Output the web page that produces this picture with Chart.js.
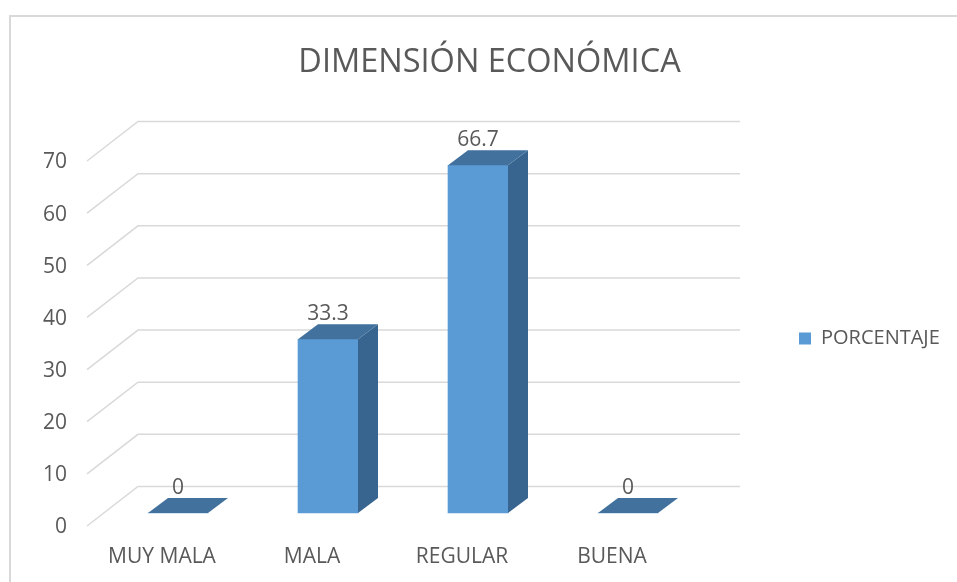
<!DOCTYPE html>
<html><head><meta charset="utf-8">
<script src="https://cdn.jsdelivr.net/npm/chart.js@4.4.1/dist/chart.umd.min.js"></script>
<style>html,body{margin:0;padding:0;background:#fff;overflow:hidden}#wrap{position:relative;width:957px;height:582px}</style>
</head><body><div id="wrap"><canvas id="c" width="957" height="582"></canvas></div>
<script>
// ---- data ----
const categories = ['MUY MALA', 'MALA', 'REGULAR', 'BUENA'];
const seriesName = 'PORCENTAJE';
const porcentaje = [0, 33.3, 66.7, 0];
const yTicks = [0, 10, 20, 30, 40, 50, 60, 70];
const chartTitle = 'DIMENSIÓN ECONÓMICA';

// ---- style ----
const FONT = '"Open Sans", sans-serif';
const TEXT = '#595959';
const FRONT = '#5B9BD5';
const TOPC = '#41719C';
const SIDEC = '#386490';
const GRID = '#D9D9D9';
const WALL = {dx: 51, dy: -39.5};
const WALL_RIGHT = 740;
const SHIFT = {dx: 16, dy: -13};
const DEPTH = {dx: 20, dy: -15};
const LEG_FS = 20;

const mc = document.createElement('canvas').getContext('2d');
mc.font = 'normal normal ' + LEG_FS + 'px ' + FONT;
const legTextW = mc.measureText(seriesName).width;
const legPad = 112;
const legWidth = legPad + 12 + LEG_FS / 2 + legTextW + 10;
const padR = Math.max(0, 270 - legWidth);
const padL = 22 + padR;

const threeD = {
  id: 'threeD',
  beforeDraw(chart) {
    const ctx = chart.ctx;
    ctx.save();
    ctx.strokeStyle = GRID; ctx.lineWidth = 2;
    ctx.beginPath(); ctx.moveTo(10, 582); ctx.lineTo(10, 16); ctx.lineTo(957, 16); ctx.stroke();
    ctx.restore();
  },
  beforeDatasetsDraw(chart) {
    const {ctx, chartArea, scales: {y}} = chart;
    ctx.save();
    ctx.strokeStyle = GRID; ctx.lineWidth = 1.5;
    y.ticks.forEach(t => {
      const yf = y.getPixelForValue(t.value);
      ctx.beginPath();
      ctx.moveTo(chartArea.left, yf);
      ctx.lineTo(chartArea.left + WALL.dx, yf + WALL.dy);
      ctx.lineTo(WALL_RIGHT, yf + WALL.dy);
      ctx.stroke();
    });
    ctx.restore();
    ctx.save();
    ctx.translate(SHIFT.dx, SHIFT.dy);
  },
  afterDatasetsDraw(chart) {
    const ctx = chart.ctx;
    const meta = chart.getDatasetMeta(0);
    meta.data.forEach(bar => {
      const {x, y, base, width} = bar.getProps(['x', 'y', 'base', 'width'], true);
      const l = x - width / 2, r = x + width / 2;
      ctx.fillStyle = SIDEC;
      ctx.beginPath();
      ctx.moveTo(r, y); ctx.lineTo(r + DEPTH.dx, y + DEPTH.dy);
      ctx.lineTo(r + DEPTH.dx, base + DEPTH.dy); ctx.lineTo(r, base);
      ctx.closePath(); ctx.fill();
      ctx.fillStyle = TOPC;
      ctx.beginPath();
      ctx.moveTo(l, y); ctx.lineTo(r, y);
      ctx.lineTo(r + DEPTH.dx, y + DEPTH.dy); ctx.lineTo(l + DEPTH.dx, y + DEPTH.dy);
      ctx.closePath(); ctx.fill();
    });
    ctx.restore();
    ctx.save();
    ctx.font = 'normal 21px ' + FONT;
    ctx.fillStyle = TEXT; ctx.textAlign = 'center'; ctx.textBaseline = 'middle';
    meta.data.forEach((bar, i) => {
      ctx.fillText(String(porcentaje[i]), bar.x + SHIFT.dx, bar.y + SHIFT.dy - 25);
    });
    ctx.restore();
  }
};

new Chart(document.getElementById('c'), {
  type: 'bar',
  data: {
    labels: categories,
    datasets: [{
      label: seriesName,
      data: porcentaje,
      backgroundColor: FRONT,
      borderWidth: 0,
      barThickness: 60,
      clip: false
    }]
  },
  options: {
    responsive: false,
    animation: false,
    events: [],
    layout: {padding: {left: padL, right: padR, top: 0, bottom: 0}},
    plugins: {
      tooltip: {enabled: false},
      title: {
        display: true, text: chartTitle, color: TEXT,
        font: {family: FONT, size: 32.5, weight: 'normal'},
        padding: {top: 43, bottom: 79}
      },
      legend: {
        position: 'right', fullSize: false, maxWidth: 400,
        title: {display: true, text: ' ', font: {size: 1}, padding: {top: 0, bottom: -11}},
        labels: {
          boxWidth: 12, boxHeight: 12, padding: legPad, color: TEXT,
          font: {family: FONT, size: LEG_FS, weight: 'normal'}
        }
      }
    },
    scales: {
      x: {
        grid: {display: false, drawTicks: false},
        border: {display: false},
        ticks: {color: TEXT, font: {family: FONT, size: 21}, padding: 18},
        afterFit: s => { s.height = 56; }
      },
      y: {
        min: 0, max: 70,
        afterBuildTicks: s => { s.ticks = yTicks.map(v => ({value: v})); },
        grid: {display: false, drawTicks: false},
        border: {display: false},
        ticks: {color: TEXT, font: {family: FONT, size: 21}, padding: 20, labelOffset: 1.5},
        afterFit: s => { s.width = 87 - padL; }
      }
    }
  },
  plugins: [threeD]
});
</script>
</body></html>
